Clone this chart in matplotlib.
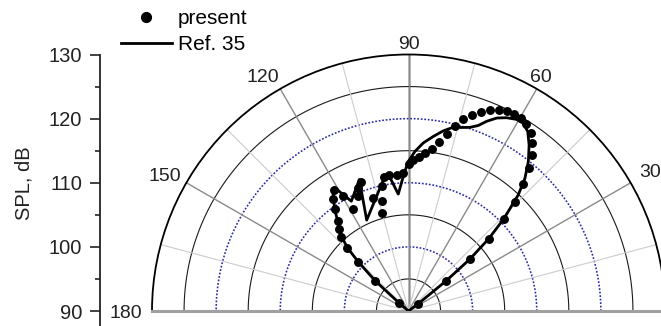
import numpy as np
import matplotlib
matplotlib.use("Agg")
import matplotlib.pyplot as plt

plt.rcParams['font.family'] = ['Liberation Sans', 'DejaVu Sans']

# ---------------- data ----------------
present_theta = [36, 38.5, 40.2, 41.8, 43.9, 45.7, 48.0, 49.8, 51.6, 53.7, 55.6, 57.8,
                 59.8, 61.8, 63.8, 65.8, 67.9, 69.9, 72.0, 74.0, 75.9, 77.8, 79.7, 81.9,
                 84.0, 86.0, 88.2, 89.7, 92.2, 95.0, 98.2, 100.4, 101.9, 103.8, 105.2, 107.5,
                 110.4, 112.2, 113.6, 118.3, 119.8, 121.6, 124.0, 126.0, 128.0, 130.3, 132.2, 134.2,
                 135.6, 137.8, 140.0]
present_spl = [91.8, 97.5, 102.5, 106.8, 110.6, 113.8, 116.7, 119.1, 121.0, 122.6, 123.7, 124.4,
               124.8, 124.9, 124.7, 124.4, 123.8, 123.1, 122.2, 121.1, 119.8, 118.3, 116.8, 115.5,
               114.7, 114.1, 113.6, 112.9, 111.6, 111.3, 111.4, 111.2, 109.9, 107.6, 105.8, 108.5,
               111.4, 110.7, 109.6, 108.1, 110.6, 112.2, 111.0, 109.6, 107.9, 106.8, 105.6, 103.7,
               101.0, 97.0, 91.9]

ref_theta = [40, 37, 38.7, 40.2, 42.0, 44.0, 46.6, 48.7, 51.3, 54.0, 56.4, 58.5, 60.6, 63.1,
             65.4, 67.6, 69.4, 71.5, 73.8, 76.3, 79.1, 81.9, 85.0, 87.7, 90.1, 91.8, 95.0,
             97.9, 100.0, 114.7, 110.5, 117.5, 120.9, 123.0, 126.0, 128.0, 130.0, 132.0,
             134.0, 135.6, 137.8, 139.0, 140.0]
ref_spl = [90.0, 92.0, 97.5, 102.5, 106.8, 110.6, 114.9, 117.5, 119.9, 122.0, 123.6, 124.3,
           124.3, 123.8, 123.1, 122.0, 120.9, 120.2, 119.8, 119.5, 118.6, 117.5, 116.3, 114.9,
           113.3, 111.5, 108.3, 111.0, 111.3, 105.6, 111.9, 109.3, 112.4, 111.6, 109.6, 108.0,
           106.8, 105.6, 103.7, 101.0, 97.0, 92.5, 90.0]

r_min, r_max = 90, 130
r_ticks = [95, 100, 105, 110, 115, 120, 125]
angle_major = [0, 30, 60, 90, 120, 150, 180]
angle_minor = [15, 45, 75, 105, 135, 165]
angle_labels = ['', '30', '60', '90', '120', '150', '180']
spl_ticks = [90, 100, 110, 120, 130]
spl_minor = [95, 105, 115, 125]

# ---------------- layout ----------------
W, H = 661, 326
cx, cy, R = 408.5, 311.0, 256.5
fig = plt.figure(figsize=(W / 100, H / 100), dpi=100)

# square box (equal aspect): the half-disc sits centred vertically inside it
box_bottom_px = (H - cy) + R / 2 - R
ax = fig.add_axes([(cx - R) / W, box_bottom_px / H, 2 * R / W, 2 * R / H], projection='polar')
ax.set_thetamin(0)
ax.set_thetamax(180)
ax.set_rlim(r_min, r_max)
ax.set_facecolor('white')

ax.set_xticks(np.deg2rad(angle_major))
ax.set_xticks(np.deg2rad(angle_minor), minor=True)
ax.set_xticklabels([])
ax.set_xticklabels([], minor=True)
ax.tick_params(axis='x', which='major', direction='in', length=7, width=1.0, color='black')
ax.tick_params(axis='x', which='minor', direction='in', length=3.5, width=0.8, color='black')
ax.set_yticks(r_ticks)
ax.set_yticklabels([])
ax.tick_params(axis='y', length=0)
ax.yaxis.grid(False)

# angular spokes
ax.xaxis.grid(True, which='major', color='#8a8a8a', lw=1.0, ls='-')
ax.xaxis.grid(True, which='minor', color='#cccccc', lw=0.8, ls='-')
ax.axvline(np.deg2rad(90), color='#b0b0b0', lw=1.8, zorder=0.6)

# radial circles (grid)
tt = np.linspace(0, np.pi, 400)
for v in r_ticks:
    if v % 10 == 0:
        ax.plot(tt, np.full_like(tt, v), color='#2a2aa8', lw=1.15, ls=(0, (1.1, 1.1)), zorder=1)
    else:
        ax.plot(tt, np.full_like(tt, v), color='#1a1a1a', lw=0.8, ls='-', zorder=1)

ax.spines['polar'].set_color('black')
ax.spines['polar'].set_linewidth(1.3)
for s in ('start', 'end'):
    ax.spines[s].set_color('#a0a0a0')
    ax.spines[s].set_linewidth(2.2)
ax.spines['inner'].set_visible(False)

# data
ref_line, = ax.plot(np.deg2rad(ref_theta), ref_spl, color='black', lw=2.0,
                    solid_joinstyle='round', zorder=3, label='Ref. 35')
pts, = ax.plot(np.deg2rad(present_theta), present_spl, 'o', color='black',
               markersize=5.4, zorder=4, label='present')

# angle labels
label_offsets = {0: (0, 0), 30: (19, 6), 60: (4, 7), 90: (0, 5.5), 120: (-17, 7),
                 150: (-22, 2), 180: (-26, -7)}
for a, lbl in zip(angle_major, angle_labels):
    if not lbl:
        continue
    dx, dy = label_offsets[a]
    ax.annotate(lbl, xy=(np.deg2rad(a), r_max), xytext=(dx, dy), textcoords='offset pixels',
                ha='center', va='baseline', fontsize=14, annotation_clip=False, color='#222222')

# left SPL axis
bottom_val = r_min - (H - cy) / (R / (r_max - r_min))
ax2 = fig.add_axes([100 / W, 0, 0.0001, (H - (cy - R)) / H])
ax2.set_ylim(bottom_val, r_max)
ax2.patch.set_visible(False)
for s in ('top', 'right', 'bottom'):
    ax2.spines[s].set_visible(False)
ax2.spines['left'].set_linewidth(1.3)
ax2.spines['left'].set_color('#222222')
ax2.set_xticks([])
ax2.set_yticks(spl_ticks)
ax2.set_yticks(spl_minor, minor=True)
ax2.tick_params(axis='y', which='major', direction='out', length=7.2, width=1.2,
                labelsize=14.5, pad=5.5, colors='#222222')
ax2.tick_params(axis='y', which='minor', direction='out', length=3.6, width=1.2, colors='#222222')
fig.text(24 / W, 1 - 183 / H, 'SPL, dB', rotation=90, ha='center', va='center',
         fontsize=14.5, color='#222222')

# legend
fig.legend([pts, ref_line], ['present', 'Ref. 35'], loc='upper left',
           bbox_to_anchor=(120.7 / W, 1 - 9 / H), frameon=False, fontsize=15,
           handlelength=2.45, handletextpad=0.3, borderaxespad=0, borderpad=0,
           labelspacing=0.33, markerscale=1.3)

fig.savefig('out.png', dpi=100)
